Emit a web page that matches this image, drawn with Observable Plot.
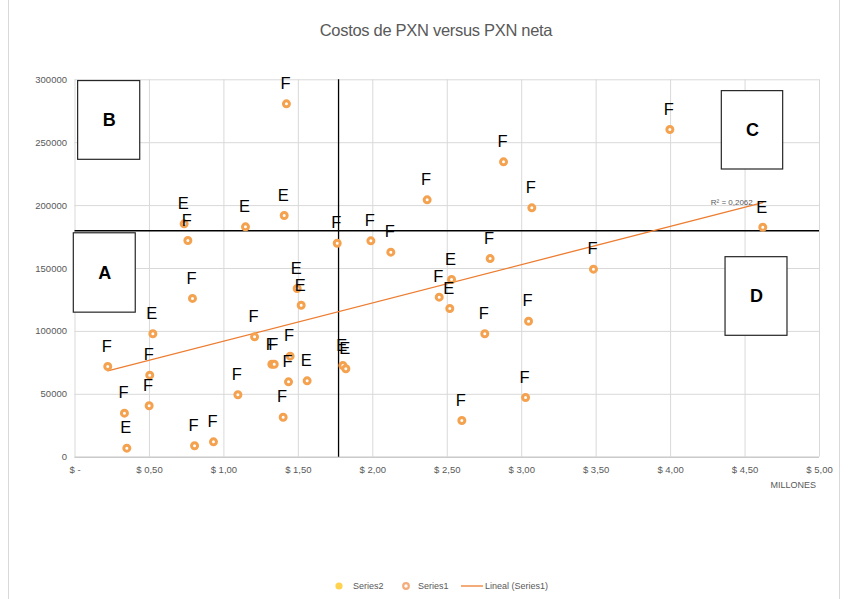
<!DOCTYPE html>
<html>
<head>
<meta charset="utf-8">
<script src="https://cdn.jsdelivr.net/npm/d3@7"></script>
<script src="https://cdn.jsdelivr.net/npm/@observablehq/plot@0.6"></script>
<style>
  body { margin: 0; background: #fff; font-family: "Liberation Sans", Arial, sans-serif; }
  #wrap { position: relative; width: 848px; height: 599px; overflow: hidden; background: #fff; }
  #frame { position: absolute; left: 8px; top: -2px; width: 832px; height: 640px; border: 1px solid #d9d9d9; box-sizing: border-box; }
  #title { position: absolute; left: 0; top: 21px; width: 872px; text-align: center; font-size: 16.5px; color: #595959; letter-spacing: -0.3px; }
  #chart { position: absolute; left: 0; top: 55px; }
  #unit { position: absolute; right: 32px; top: 480px; font-size: 9px; color: #595959; }
  .leg { position: absolute; font-size: 9px; color: #595959; top: 581px; white-space: nowrap; }
</style>
</head>
<body>
<div id="wrap">
  <div id="frame"></div>
  <div id="title">Costos de PXN versus PXN neta</div>
  <div id="chart"></div>
  <div id="unit">MILLONES</div>
  <svg class="leg" style="left:334px;top:581px" width="10" height="10"><circle cx="5" cy="5" r="3.6" fill="#FFD34F"/></svg>
  <span class="leg" style="left:353px">Series2</span>
  <svg class="leg" style="left:401px;top:581px" width="10" height="10"><circle cx="5" cy="5" r="2.8" fill="#fff" stroke="#F4AC7C" stroke-width="2.2"/></svg>
  <span class="leg" style="left:418px">Series1</span>
  <svg class="leg" style="left:461px;top:581px" width="22" height="10"><line x1="0" y1="5" x2="22" y2="5" stroke="#ED7D31" stroke-width="1.3"/></svg>
  <span class="leg" style="left:485px">Lineal (Series1)</span>
</div>
<script>
// PXN neta (millones de $)
const pxnNeta = [1.420,0.733,0.758,1.145,1.405,1.761,1.987,2.121,2.365,2.878,3.068,3.995,4.619,3.482,2.788,2.529,2.446,2.517,2.752,3.046,3.026,2.598,1.799,1.819,1.559,1.492,1.519,0.789,0.523,0.220,0.502,0.498,0.332,0.348,0.803,0.930,1.094,1.206,1.322,1.338,1.445,1.434,1.398];
// Costos de PXN
const costos = [280900,185500,172300,183100,192100,170100,172000,163000,204600,234800,198200,260500,182800,149500,157900,141300,127200,118200,98100,108100,47500,29200,72900,70300,60700,134100,120800,126200,98100,72100,65200,40900,35000,7200,9100,12200,49600,95700,73900,73900,80300,59900,31800];
// Etiqueta de cada punto
const tipo = ["F","E","F","E","E","F","F","F","F","F","F","F","E","F","F","E","F","E","F","F","F","F","E","E","E","E","E","F","E","F","F","F","F","E","F","F","F","F","F","F","F","F","F"];

const xTicks = [0,0.5,1,1.5,2,2.5,3,3.5,4,4.5,5];
const yTicks = [0,50000,100000,150000,200000,250000,300000];

// reference (quadrant) lines
const refX = 1.77;
const refY = 180000;

// quadrant annotation boxes (data units)
const boxLabel = ["A","B","C","D"];
const boxX1 = [-0.008,0.021,4.344,4.369];
const boxX2 = [0.408,0.438,4.756,4.785];
const boxY1 = [114900,236400,228700,96500];
const boxY2 = [178000,299000,291000,159000];

const rSquaredText = "R² = 0,2062";

const data = pxnNeta.map((x, i) => ({x, y: costos[i], t: tipo[i]}));
const boxes = boxLabel.map((l, i) => ({l, x1: boxX1[i], x2: boxX2[i], y1: boxY1[i], y2: boxY2[i]}));

// least squares, for positioning the R² label at the line end
const mx = d3.mean(pxnNeta), my = d3.mean(costos);
const slope = d3.sum(data, d => (d.x - mx) * (d.y - my)) / d3.sum(data, d => (d.x - mx) ** 2);
const xEnd = d3.max(pxnNeta);
const yEnd = my + slope * (xEnd - mx);

const fmtX = v => v === 0 ? "$ -" : "$ " + v.toFixed(2).replace(".", ",");

const H = 445;
const chart = Plot.plot({
  width: 848,
  height: H,
  marginLeft: 74.5,
  marginRight: 29,
  marginTop: 24.3,
  marginBottom: 43.3,
  style: {fontFamily: "Liberation Sans, Arial, sans-serif", fontSize: "9.5px", color: "#595959", background: "transparent"},
  x: {domain: [0, 5]},
  y: {domain: [0, 300000]},
  marks: [
    Plot.gridX(xTicks, {stroke: "#d9d9d9", strokeOpacity: 1}),
    Plot.gridY(yTicks, {stroke: "#d9d9d9", strokeOpacity: 1}),
    Plot.ruleY([0], {stroke: "#bfbfbf"}),
    Plot.axisX({ticks: xTicks, tickSize: 0, tickPadding: 9, tickFormat: fmtX, label: null}),
    Plot.axisY({ticks: yTicks, tickSize: 0, tickPadding: 8, tickFormat: d => String(d), label: null}),
    Plot.ruleX([refX], {stroke: "#000", strokeWidth: 1.3}),
    Plot.ruleY([refY], {stroke: "#000", strokeWidth: 1.3}),
    Plot.rect(boxes, {x1: "x1", x2: "x2", y1: "y1", y2: "y2", fill: "#fff", stroke: "#262626", strokeWidth: 1.2}),
    Plot.text(boxes, {x: d => (d.x1 + d.x2) / 2, y: d => (d.y1 + d.y2) / 2, text: "l", fontSize: 18, fontWeight: "bold", fill: "#000"}),
    Plot.linearRegressionY(data, {x: "x", y: "y", ci: 0, stroke: "#ED7D31", strokeWidth: 1.3}),
    Plot.dot(data, {x: "x", y: "y", r: 3, stroke: "#F4A24F", strokeWidth: 3, fill: "#fff"}),
    Plot.text(data, {x: "x", y: "y", text: "t", dy: -20, dx: -1, fontSize: 16.5, fill: "#000"}),
    Plot.text([{x: xEnd, y: yEnd}], {x: "x", y: "y", text: () => rSquaredText, textAnchor: "end", dx: -10, dy: 0, fontSize: 8, fill: "#595959"})
  ]
});
document.getElementById("chart").appendChild(chart);
</script>
</body>
</html>
